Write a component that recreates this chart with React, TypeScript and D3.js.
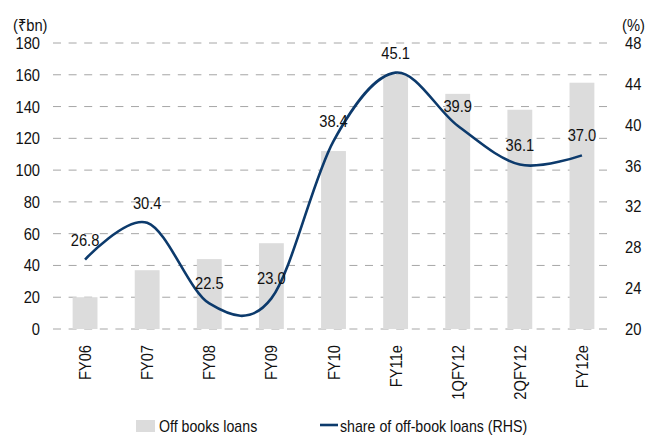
import React, { useEffect, useRef } from "react";
import * as d3 from "d3";

// chart data
const categories = ["FY06", "FY07", "FY08", "FY09", "FY10", "FY11e", "1QFY12", "2QFY12", "FY12e"];
const offBookLoans = [20, 37, 44, 54, 112, 160, 148, 138, 155];
const shareOffBook = [26.8, 30.4, 22.5, 23.0, 38.4, 45.1, 39.9, 36.1, 37.0];
const leftTicks = [0, 20, 40, 60, 80, 100, 120, 140, 160, 180];
const rightTicks = [20, 24, 28, 32, 36, 40, 44, 48];

// the source font is a condensed helvetica, so squeeze the text a bit
const FS = 16.8;
const SQ = "scale(0.875,1)";

export default function App() {
  const svgRef = useRef<SVGSVGElement>(null);

  useEffect(() => {
    const width = 651;
    const height = 435;
    const svg = d3.select(svgRef.current)
      .attr("width", width)
      .attr("height", height)
      .style("font-family", "'Liberation Sans', Arial, sans-serif");
    svg.selectAll("*").remove();

    const left = 54, right = 613, top = 43, bottom = 329;

    const x = d3.scaleBand<string>()
      .domain(categories)
      .range([left, right])
      .paddingInner(0.6)
      .paddingOuter(0.3);
    const yL = d3.scaleLinear().domain([0, 180]).range([bottom, top]);
    const yR = d3.scaleLinear().domain([20, 48]).range([bottom, top]);
    const cx = (i: number) => x(categories[i])! + x.bandwidth() / 2;

    // gridlines
    svg.append("g")
      .selectAll("line")
      .data(leftTicks)
      .enter()
      .append("line")
      .attr("x1", left - 1)
      .attr("x2", right)
      .attr("y1", d => yL(d))
      .attr("y2", d => yL(d))
      .attr("stroke", "#a6a6a6")
      .attr("stroke-width", 1)
      .attr("stroke-dasharray", "8,7.6");

    // left axis labels
    svg.append("g")
      .selectAll("text")
      .data(leftTicks)
      .enter()
      .append("text")
      .attr("transform", d => `translate(40,${yL(d)}) ${SQ}`)
      .attr("dy", "0.36em")
      .attr("text-anchor", "end")
      .attr("font-size", FS)
      .attr("fill", "#111")
      .text(d => d);

    // right axis labels
    svg.append("g")
      .selectAll("text")
      .data(rightTicks)
      .enter()
      .append("text")
      .attr("transform", d => `translate(625,${yR(d)}) ${SQ}`)
      .attr("dy", "0.36em")
      .attr("font-size", FS)
      .attr("fill", "#111")
      .text(d => d);

    svg.append("text")
      .attr("transform", `translate(13,31) ${SQ}`)
      .attr("font-size", FS).attr("fill", "#111")
      .text("(₹bn)");
    svg.append("text")
      .attr("transform", `translate(622,31) ${SQ}`)
      .attr("font-size", FS).attr("fill", "#111")
      .text("(%)");

    // bars
    svg.append("g")
      .selectAll("rect")
      .data(offBookLoans)
      .enter()
      .append("rect")
      .attr("x", (d, i) => x(categories[i])!)
      .attr("y", d => yL(d))
      .attr("width", x.bandwidth())
      .attr("height", d => yL(0) - yL(d))
      .attr("fill", "#dcdcdc");

    // category labels
    svg.append("g")
      .selectAll("text")
      .data(categories)
      .enter()
      .append("text")
      .attr("transform", (d, i) => `translate(${cx(i)},345) rotate(-90) ${SQ}`)
      .attr("dy", "0.36em")
      .attr("text-anchor", "end")
      .attr("font-size", FS)
      .attr("fill", "#111")
      .text(d => d);

    // share line
    const line = d3.line<number>()
      .x((d, i) => cx(i))
      .y(d => yR(d))
      .curve(d3.curveCardinal.tension(0));
    svg.append("path")
      .datum(shareOffBook)
      .attr("d", line)
      .attr("fill", "none")
      .attr("stroke", "#0c3a6c")
      .attr("stroke-width", 2.6);

    // line labels
    svg.append("g")
      .selectAll("text")
      .data(shareOffBook)
      .enter()
      .append("text")
      .attr("transform", (d, i) => `translate(${cx(i)},${yR(d) - 14}) ${SQ}`)
      .attr("text-anchor", "middle")
      .attr("font-size", FS)
      .attr("fill", "#111")
      .text(d => d.toFixed(1));

    // legend
    const lg = svg.append("g");
    lg.append("rect")
      .attr("x", 136).attr("y", 420)
      .attr("width", 19).attr("height", 12)
      .attr("fill", "#dcdcdc");
    lg.append("text")
      .attr("transform", `translate(159,432) ${SQ}`)
      .attr("font-size", 16.2).attr("fill", "#111")
      .text("Off books loans");
    lg.append("line")
      .attr("x1", 320).attr("x2", 338)
      .attr("y1", 425).attr("y2", 425)
      .attr("stroke", "#0c3a6c").attr("stroke-width", 2.6);
    lg.append("text")
      .attr("transform", `translate(340,432) ${SQ}`)
      .attr("font-size", 16.2).attr("fill", "#111")
      .text("share of off-book loans (RHS)");
  }, []);

  return (
    <div style={{ position: "absolute", left: 0, top: 0 }}>
      <svg ref={svgRef}></svg>
    </div>
  );
}
